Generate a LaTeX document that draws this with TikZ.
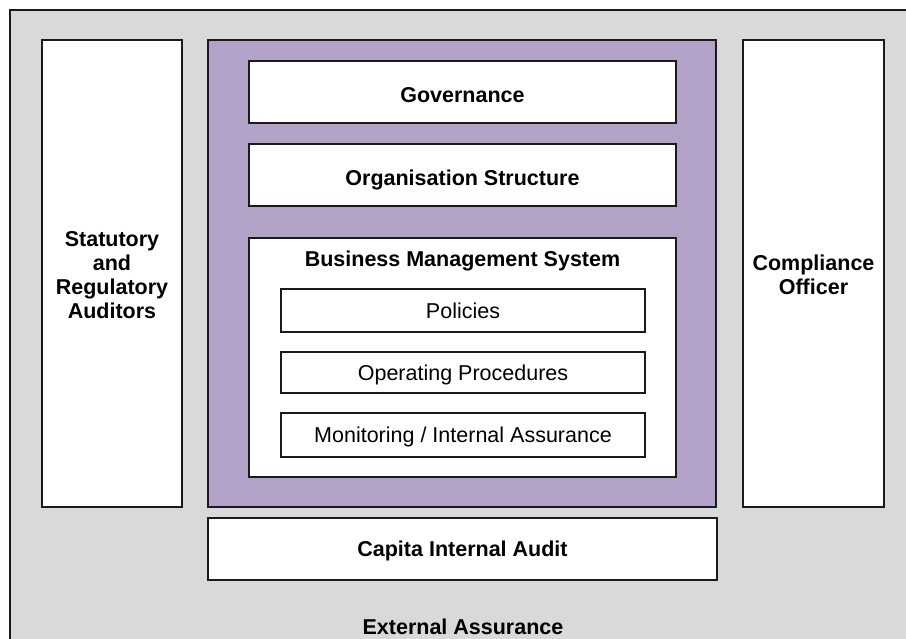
\documentclass[tikz,border=0pt]{standalone}
\usepackage{fontspec}
\setmainfont{Liberation Sans}
\definecolor{assurgrey}{HTML}{D9D9D9}
\definecolor{mgmtpurple}{HTML}{B3A2C7}
\definecolor{edge}{HTML}{1A1A1A}
\begin{document}
\begin{tikzpicture}[x=1pt,y=-1pt,
  every node/.style={inner sep=0pt, outer sep=0pt, align=center},
  bold/.style={font=\fontsize{21.5}{24}\selectfont\bfseries},
  plain/.style={font=\fontsize{21.5}{24}\selectfont},
  frame/.style={draw=edge, line width=1.2pt, fill=white},
  label/.style={text depth=0pt},
  lowlabel/.style={text height=22pt, text depth=0pt}]
\useasboundingbox (0,0) rectangle (906,639);
\begin{scope}
\clip (0,0) rectangle (906,639);
% outer external assurance area, running off the right and bottom edges
\draw[draw=edge, line width=1.2pt, fill=assurgrey] (10,10) rectangle (930,660);
\end{scope}

% side boxes
\node[frame, minimum width=140pt, minimum height=467pt] (sra) at (112,273.5) {};
\node[bold, label] (sratext) at (112,275) {Statutory\\and\\Regulatory\\Auditors};
\node[frame, minimum width=141pt, minimum height=467pt] (comp) at (813.5,273.5) {};
\node[bold, label] (comptext) at (813.5,275) {Compliance\\Officer};

% business management block
\node[draw=edge, line width=1.2pt, fill=mgmtpurple, minimum width=508pt, minimum height=467pt] (mgmt) at (462,273.5) {};
\node[frame, bold, lowlabel, minimum width=427pt, minimum height=62pt] (gov) at (462.5,92) {Governance};
\node[frame, bold, lowlabel, minimum width=427pt, minimum height=62pt] (org) at (462.5,175) {Organisation Structure};
\node[frame, minimum width=427pt, minimum height=239pt] (bms) at (462.5,357.5) {};
\node[bold, label] (bmstitle) at (462.5,259) {Business Management System};
\node[frame, plain, label, minimum width=364pt, minimum height=43pt] (pol) at (463,310.5) {Policies};
\node[frame, plain, label, minimum width=364pt, minimum height=41pt] (ops) at (463,372.5) {Operating Procedures};
\node[frame, plain, label, minimum width=364pt, minimum height=44pt] (mon) at (463,435) {Monitoring / Internal Assurance};

% internal audit
\node[frame, bold, label, minimum width=509pt, minimum height=62pt] (cia) at (462.5,549) {Capita Internal Audit};

% caption of the outer area
\node[bold, label] (ext) at (463,627) {External Assurance};
\end{tikzpicture}
\end{document}
